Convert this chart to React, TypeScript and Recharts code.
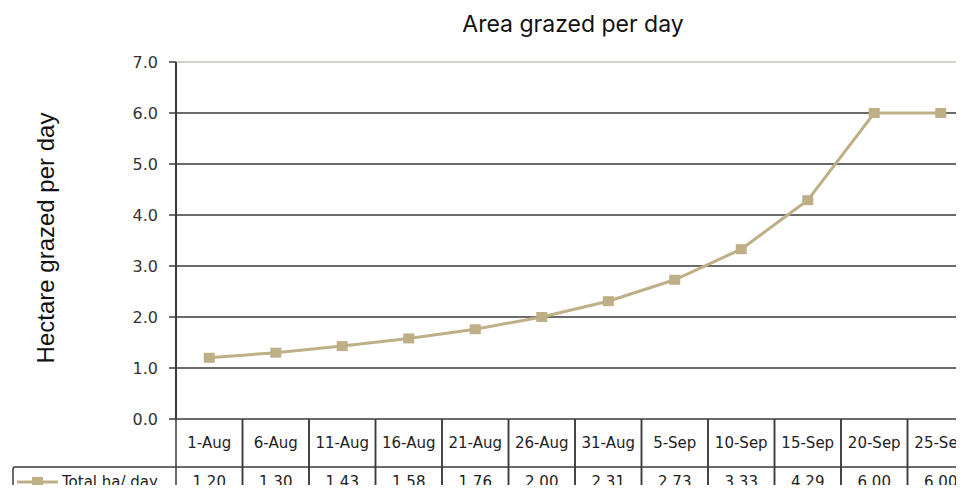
import { LineChart, Line, XAxis, YAxis, CartesianGrid, ReferenceLine } from "recharts"

const dates = ["1-Aug", "6-Aug", "11-Aug", "16-Aug", "21-Aug", "26-Aug", "31-Aug", "5-Sep", "10-Sep", "15-Sep", "20-Sep", "25-Sep"]
const haPerDay = [1.2, 1.3, 1.43, 1.58, 1.76, 2.0, 2.31, 2.73, 3.33, 4.29, 6.0, 6.0]
const yTicks = [0, 1, 2, 3, 4, 5, 6, 7]
const seriesName = "Total ha/ day"

const data = dates.map((d, i) => ({ date: d, ha: haPerDay[i] }))

const W = 1010
const H = 500
const PLOT_LEFT = 176
const PLOT_RIGHT = 974
const PLOT_TOP = 62
const PLOT_BOTTOM = 419
const ROW2 = 467
const LINE_COLOR = "#BEAF87"
const GRID = "#3a3a3a"
const FONT = "'DejaVu Sans', Verdana, sans-serif"

const band = (PLOT_RIGHT - PLOT_LEFT) / dates.length

function TableTick(props: any) {
  const { x, payload } = props
  const i = payload.index
  const left = x - band / 2
  const right = x + band / 2
  return (
    <g>
      <line x1={left} y1={PLOT_BOTTOM} x2={right} y2={PLOT_BOTTOM} stroke={GRID} strokeWidth={1.5} />
      <line x1={left} y1={ROW2} x2={right} y2={ROW2} stroke={GRID} strokeWidth={1.5} />
      <line x1={left} y1={PLOT_BOTTOM} x2={left} y2={H} stroke={GRID} strokeWidth={1.5} />
      <line x1={right} y1={PLOT_BOTTOM} x2={right} y2={H} stroke={GRID} strokeWidth={1.5} />
      <text x={x} y={448} textAnchor="middle" fontSize={15} fontFamily={FONT} fill="#222">
        {payload.value}
      </text>
      <text x={x} y={487} textAnchor="middle" fontSize={15} fontFamily={FONT} fill="#222">
        {haPerDay[i].toFixed(2)}
      </text>
      {i === 0 && (
        <g>
          <path d={`M13,${H} L13,${ROW2 + 2} Q13,${ROW2} 15,${ROW2} L${PLOT_LEFT},${ROW2}`} fill="none" stroke={GRID} strokeWidth={1.5} />
          <line x1={17} y1={482} x2={58} y2={482} stroke={LINE_COLOR} strokeWidth={3} />
          <rect x={32} y={477} width={11} height={10} fill={LINE_COLOR} />
          <text x={62} y={487} fontSize={15} fontFamily={FONT} fill="#222">
            {seriesName}
          </text>
        </g>
      )}
    </g>
  )
}

function SquareDot(props: any) {
  const { cx, cy } = props
  if (cx == null || cy == null) return null
  return <rect x={cx - 5.5} y={cy - 5} width={11} height={10} fill={LINE_COLOR} />
}

export default function App() {
  return (
    <div style={{ margin: -8, width: 964, height: 493, overflow: "hidden", position: "relative", background: "#fff" }}>
      <div
        style={{
          position: "absolute",
          left: 0,
          width: 1146,
          top: 10,
          textAlign: "center",
          fontFamily: "Inter, 'Noto Sans', sans-serif",
          fontSize: 23,
          color: "#111",
        }}
      >
        Area grazed per day
      </div>
      <div
        style={{
          position: "absolute",
          left: 46,
          top: 238,
          transform: "translate(-50%, -50%) rotate(-90deg)",
          whiteSpace: "nowrap",
          fontFamily: "'Liberation Sans', Arial, sans-serif",
          fontSize: 24,
          color: "#111",
        }}
      >
        Hectare grazed per day
      </div>
      <LineChart
        width={W}
        height={H}
        data={data}
        margin={{ top: PLOT_TOP, right: W - PLOT_RIGHT, left: 0, bottom: 0 }}
      >
        <CartesianGrid horizontal vertical={false} horizontalValues={[1, 2, 3, 4, 5, 6]} stroke={GRID} strokeWidth={1.5} />
        <ReferenceLine y={7} stroke="#c8c2b6" strokeWidth={1.5} />
        <XAxis
          dataKey="date"
          height={H - PLOT_BOTTOM}
          axisLine={false}
          tickLine={false}
          tick={<TableTick />}
          interval={0}
          padding={{ left: band / 2, right: band / 2 }}
        />
        <YAxis
          width={PLOT_LEFT}
          domain={[0, 7]}
          ticks={yTicks}
          tickFormatter={(v: number) => v.toFixed(1)}
          axisLine={{ stroke: GRID, strokeWidth: 2 }}
          tickLine={{ stroke: GRID, strokeWidth: 1.5 }}
          tickSize={7}
          tickMargin={11}
          tick={{ fontSize: 16, fontFamily: FONT, fill: "#333" }}
        />
        <Line
          type="linear"
          dataKey="ha"
          name={seriesName}
          stroke={LINE_COLOR}
          strokeWidth={3}
          dot={<SquareDot />}
          activeDot={false}
          isAnimationActive={false}
        />
      </LineChart>
    </div>
  )
}
